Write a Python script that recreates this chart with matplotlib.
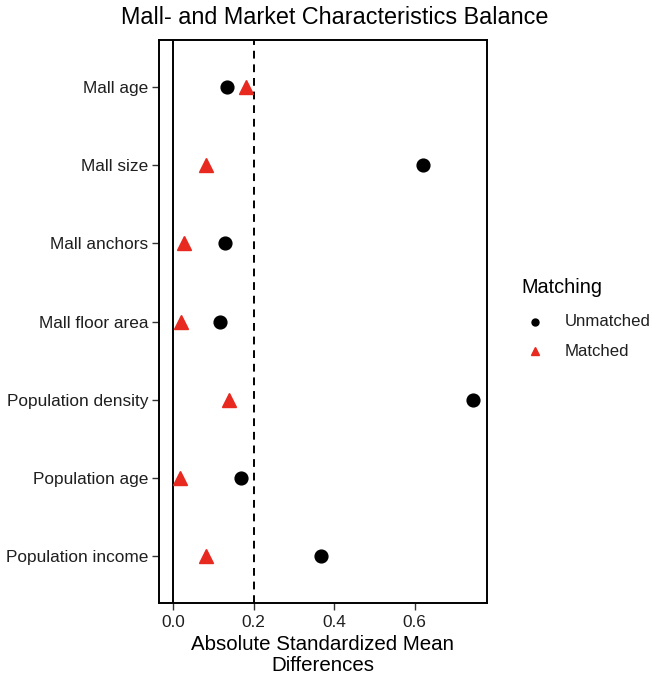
import matplotlib

matplotlib.use("Agg")
import matplotlib.pyplot as plt

plt.rcParams["font.family"] = ["Liberation Sans", "DejaVu Sans"]

covariates = [
    "Mall age",
    "Mall size",
    "Mall anchors",
    "Mall floor area",
    "Population density",
    "Population age",
    "Population income",
]
unmatched = [0.133, 0.620, 0.129, 0.116, 0.746, 0.169, 0.367]
matched = [0.180, 0.082, 0.026, 0.020, 0.139, 0.017, 0.081]
threshold = 0.2
x_ticks = [0.0, 0.2, 0.4, 0.6]
legend_labels = ["Unmatched", "Matched"]

red = "#E8291F"
text_col = "#1f1f1f"
W, H = 652, 679


def fx(px):
    return px / W


def fy(py):
    return 1 - py / H


fig = plt.figure(figsize=(6.52, 6.79), dpi=100)
ax = fig.add_axes([0.2434, 0.1119, 0.5031, 0.8292])

ypos = list(range(len(covariates)))
ax.axvline(0, color="black", lw=1.4, zorder=1)
ax.axvline(threshold, color="black", lw=1.4, ls=(0, (4, 3)), zorder=1)
ax.plot(unmatched, ypos, "o", color="black", ms=9.2, zorder=3)
ax.plot(matched, ypos, "^", color=red, ms=10.5, zorder=3)

ax.set_ylim(len(covariates) - 0.4, -0.6)
ax.set_xlim(-0.0363, 0.7796)
ax.set_yticks(ypos)
ax.set_yticklabels(covariates, fontsize=12.4, color=text_col)
ax.set_xticks(x_ticks)
ax.set_xticklabels([f"{t:.1f}" for t in x_ticks], fontsize=12.4, color=text_col)
ax.tick_params(axis="y", length=5, width=1, color="#333333", pad=2.5)
ax.tick_params(axis="x", length=5, width=1, color="#333333", pad=3.5)

for side in ax.spines.values():
    side.set_linewidth(1.4)
    side.set_color("black")

ax.set_xlabel("Absolute Standardized Mean\nDifferences", fontsize=14.8,
              linespacing=1.12, labelpad=4, color="black")
fig.text(0.514, fy(18), "Mall- and Market Characteristics Balance",
         fontsize=16.8, ha="center", va="center")

# legend drawn by hand so the key sits where ggplot puts it
fig.text(fx(521), fy(287), "Matching", fontsize=14.3, ha="left", va="center")
key_styles = [("o", "black", 5), ("^", red, 6)]
for i, (label, (mk, col, size)) in enumerate(zip(legend_labels, key_styles)):
    yy = fy(322 + 29 * i)
    fig.add_artist(plt.Line2D([fx(535)], [yy], marker=mk, color=col, ms=size,
                              ls="none", transform=fig.transFigure))
    fig.text(fx(565), yy, label, fontsize=12.1, ha="left", va="center",
             color=text_col)

fig.savefig("out.png", dpi=100)
